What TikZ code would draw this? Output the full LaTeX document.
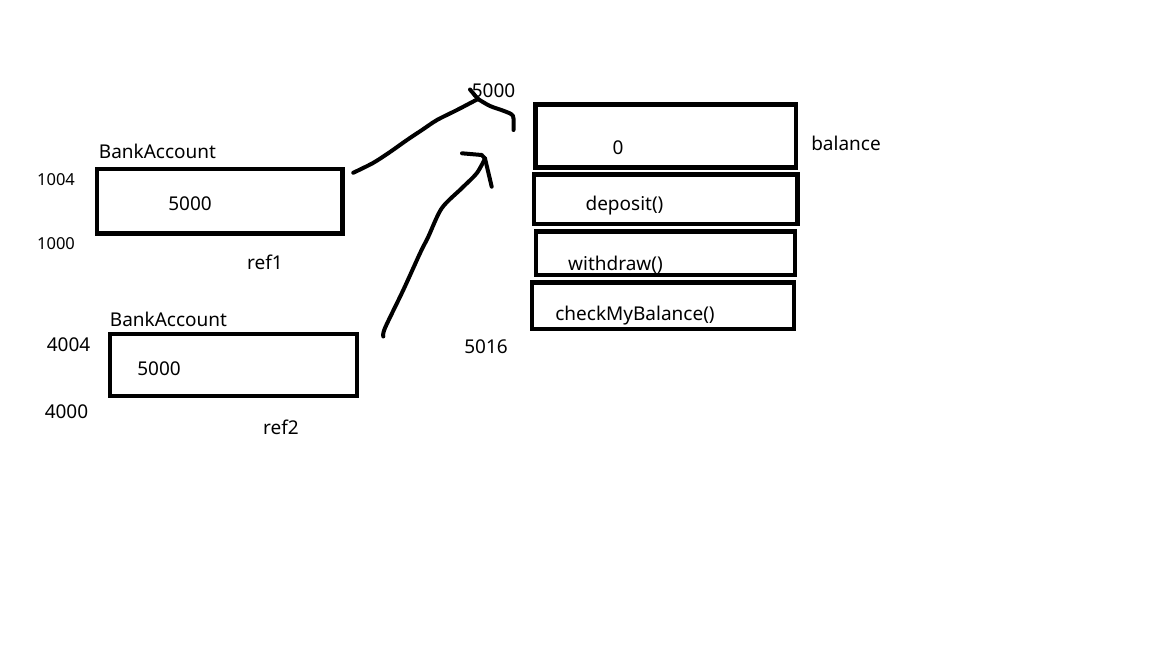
\documentclass[tikz,border=0pt]{standalone}
\usepackage{fontspec}
\setmainfont{Noto Sans}
\usetikzlibrary{calc}
\tikzset{
  cell/.style={draw, line width=4.5pt, inner sep=0pt},
  lbl/.style={inner sep=0pt, font=\fontsize{19}{22}\selectfont},
  addr/.style={inner sep=0pt, font=\fontsize{16.5}{19}\selectfont},
  pen/.style={line width=4pt, line cap=round, line join=round}
}

\begin{document}
\begin{tikzpicture}[x=1pt, y=-1pt]
%%%%% START %%%%%
\useasboundingbox (0,0) rectangle (1152,648);

% ref1
\node[cell, minimum width=245.5, minimum height=64.5] (acc1) at (219.75,201.25) {};
\node[lbl] (type1) at (157.5,151.5) {BankAccount};
\node[addr] (hi1) at (56,179.5) {1004};
\node[addr] (lo1) at (56,243.5) {1000};
\node[lbl] (val1) at (190,203.5) {5000};
\node[lbl] (ref1) at (265,262) {ref1};

% ref2
\node[cell, minimum width=247, minimum height=62] (acc2) at (233.5,365) {};
\node[lbl] (type2) at (168.5,319.5) {BankAccount};
\node[lbl] (hi2) at (68.5,345) {4004};
\node[lbl] (lo2) at (66.5,411.5) {4000};
\node[lbl] (val2) at (159,368.5) {5000};
\node[lbl] (ref2) at (281,427) {ref2};

% object on the heap
\node[cell, minimum width=260.5, minimum height=63] (fld) at (665.75,136) {};
\node[cell, minimum width=263.5, minimum height=49.5] (mdep) at (665.75,199.25) {};
\node[cell, minimum width=259, minimum height=43.3] (mwd) at (665.5,253.35) {};
\node[cell, minimum width=262, minimum height=46.5] (mchk) at (663,305.75) {};
\node[lbl] (bal) at (618,147.5) {0};
\node[lbl] (balname) at (846,143) {balance};
\node[lbl] (dep) at (624.5,205.5) {deposit()};
\node[lbl] (wd) at (615.5,265) {withdraw()};
\node[lbl] (chk) at (635,315.5) {checkMyBalance()};
\node[lbl] (top) at (493.5,91) {5000};
\node[lbl] (bot) at (486,346.5) {5016};

% hand drawn pointers
\coordinate (tip1) at (478,99);
\coordinate (tip2) at (485,158.5);
\draw[pen] plot[smooth] coordinates {($(acc1.north east)+(8.5,6)$) (373,163) (390,152) (407,140) (422,130) (437,120) (457,110) (tip1)};
\draw[pen] (tip1) -- (470,89.5);
\draw[pen] plot[smooth] coordinates {(tip1) (490,106) (504,111) (513,116) (513.5,130)};

\draw[pen] plot[smooth] coordinates {(383.3,336.5) (385,328) (403.3,290) (420,253.3) (428.3,236.7) (441.7,208.3) (461.7,188.3) (476.7,173.3) (tip2)};
\draw[pen] (462,153.3) -- (481.7,155) -- (tip2) -- (491.7,186.7);

%%%%% END %%%%%
\end{tikzpicture}
\end{document}
